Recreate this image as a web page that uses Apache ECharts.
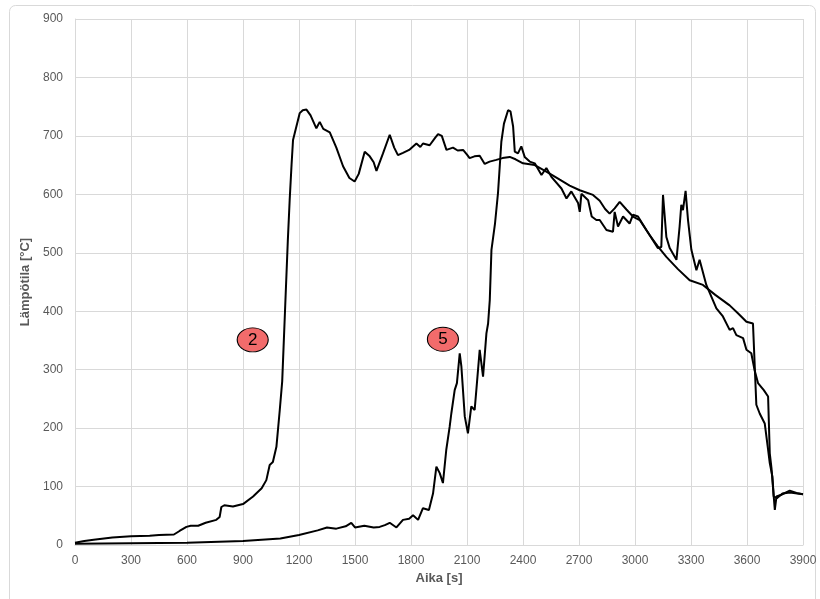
<!DOCTYPE html>
<html>
<head>
<meta charset="utf-8">
<script src="https://cdn.jsdelivr.net/npm/echarts@6/dist/echarts.min.js"></script>
<style>
html,body{margin:0;padding:0;background:#fff;}
#chart{width:820px;height:599px;}
</style>
</head>
<body>
<div id="chart"></div>
<script>
// Time axis values [s] and temperatures [°C]
var s2Time = [0,50,100,200,300,400,450,530,560,597,620,660,700,757,775,784,800,846,900,954,1000,1025,1043,1060,1079,1097,1110,1125,1140,1150,1160,1168,1186,1204,1220,1240,1262,1293,1311,1330,1365,1400,1436,1470,1498,1520,1552,1579,1600,1615,1650,1686,1710,1730,1757,1790,1829,1850,1864,1900,1930,1945,1965,1990,2025,2050,2079,2100,2114,2140,2168,2195,2221,2257,2290,2329,2360,2400,2463,2525,2597,2650,2704,2775,2811,2840,2864,2891,2918,2954,2989,3025,3079,3120,3168,3230,3293,3364,3430,3507,3550,3597,3632,3650,3668,3695,3713,3722,3736,3743,3760,3790,3830,3870,3900];
var s2Temp = [4,7,9,13,15,16,17,18,24,31,33,33,38,43,48,65,68,66,70,83,97,111,137,142,168,231,280,400,520,590,650,693,716,739,744,745,735,713,724,712,706,680,648,628,622,635,673,665,655,640,670,702,680,667,671,676,687,681,687,684,697,703,700,676,680,675,676,668,662,665,666,652,656,659,662,664,660,653,650,639,625,615,607,599,589,575,567,576,587,574,562,556,530,512,493,472,453,445,428,410,397,382,379,240,225,208,163,140,117,83,80,88,90,88,87];

var s5Time = [0,300,600,900,1100,1200,1300,1350,1400,1450,1480,1500,1550,1600,1632,1660,1686,1722,1757,1790,1811,1838,1864,1896,1918,1936,1954,1971,1989,2007,2016,2034,2046,2061,2070,2088,2105,2123,2141,2150,2168,2186,2204,2213,2222,2231,2239,2250,2266,2284,2298,2320,2333,2347,2356,2373,2391,2409,2436,2463,2499,2525,2552,2606,2633,2659,2695,2704,2713,2749,2768,2793,2811,2847,2882,2891,2909,2936,2971,2989,3016,3061,3123,3141,3150,3168,3186,3222,3239,3248,3257,3271,3284,3302,3329,3346,3382,3436,3471,3507,3525,3543,3579,3597,3623,3640,3659,3690,3713,3722,3731,3749,3758,3784,3829,3865,3900];
var s5Temp = [2,3,4,7,11,17,25,30,28,32,38,30,33,30,31,34,38,30,43,45,51,43,63,60,88,134,123,106,163,202,225,265,277,328,305,220,191,237,231,265,334,288,362,379,419,505,505,550,602,690,721,744,742,716,673,670,682,664,656,653,633,645,630,610,593,605,585,570,601,590,562,556,556,539,536,570,545,562,550,565,562,539,508,510,599,527,508,488,545,582,573,606,556,505,470,488,445,405,391,368,371,359,354,334,328,300,277,265,254,157,132,60,83,86,93,89,87];

// Series tags and their positions in data units
var tagNames = ['2', '5'];
var tagX = [952, 1971];
var tagY = [351, 352];

var xTicks = {min: 0, max: 3900, step: 300};
var yTicks = {min: 0, max: 900, step: 100};
var xName = 'Aika [s]';
var yName = 'Lämpötila [°C]';

function pairs(t, v){ return t.map(function(x,i){ return [x, v[i]]; }); }

var FONT = '"Liberation Sans", Arial, sans-serif';
var chart = echarts.init(document.getElementById('chart'), null, {renderer:'canvas'});

function tag(i){
  return {
    coord: [tagX[i], tagY[i]],
    symbol: 'circle',
    symbolSize: [31, 24],
    itemStyle: {color: '#f26b6b', borderColor: '#000', borderWidth: 1},
    label: {show: true, formatter: tagNames[i], color: '#000', fontSize: 17, fontFamily: FONT, position: 'inside'}
  };
}

var lineStyle = {color: '#000', width: 2};

chart.setOption({
  animation: false,
  backgroundColor: '#fff',
  graphic: [{
    type: 'rect', left: 9, top: 5, z: -10,
    shape: {width: 806, height: 640, r: 6},
    style: {fill: '#fff', stroke: '#d9d9d9', lineWidth: 1}
  }],
  grid: {left: 75, right: 17, top: 19, bottom: 54, containLabel: false},
  xAxis: {
    type: 'value', min: xTicks.min, max: xTicks.max, interval: xTicks.step,
    name: xName, nameLocation: 'middle', nameGap: 27,
    nameTextStyle: {color: '#595959', fontSize: 13, fontWeight: 'bold', fontFamily: FONT},
    axisLine: {show: true, lineStyle: {color: '#d9d9d9', width: 1}},
    axisTick: {show: false},
    axisLabel: {color: '#595959', fontSize: 12, fontFamily: FONT, margin: 10,
      formatter: function(v){ return String(v); }},
    splitLine: {show: true, lineStyle: {color: '#d9d9d9', width: 1}}
  },
  yAxis: {
    type: 'value', min: yTicks.min, max: yTicks.max, interval: yTicks.step,
    name: yName, nameLocation: 'middle', nameGap: 29, nameRotate: 90,
    nameTextStyle: {color: '#595959', fontSize: 13, fontWeight: 'bold', fontFamily: FONT},
    axisLine: {show: true, lineStyle: {color: '#d9d9d9', width: 1}},
    axisTick: {show: false},
    axisLabel: {color: '#595959', fontSize: 12, fontFamily: FONT, margin: 12,
      formatter: function(v){ return String(v); }},
    splitLine: {show: true, lineStyle: {color: '#d9d9d9', width: 1}}
  },
  series: [
    {
      type: 'line', name: '2', data: pairs(s2Time, s2Temp),
      showSymbol: false, symbol: 'none', lineStyle: lineStyle, z: 3,
      markPoint: {data: [tag(0)], silent: true}
    },
    {
      type: 'line', name: '5', data: pairs(s5Time, s5Temp),
      showSymbol: false, symbol: 'none', lineStyle: lineStyle, z: 3,
      markPoint: {data: [tag(1)], silent: true}
    }
  ]
});
</script>
</body>
</html>
